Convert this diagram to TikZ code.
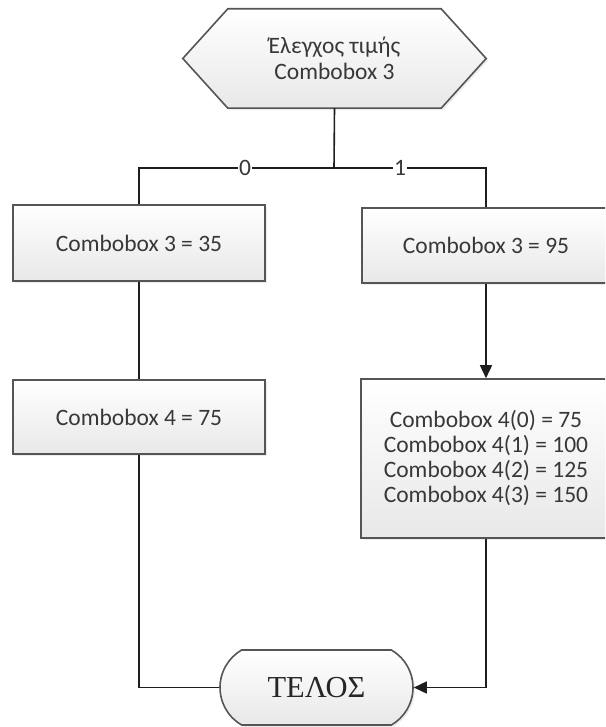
\documentclass[tikz,border=0pt]{standalone}
\usepackage{fontspec}
\setmainfont{Carlito}
\newfontfamily\terminalfont{Liberation Serif}
\usetikzlibrary{arrows.meta,shapes.misc,shadows,backgrounds}

\definecolor{edge}{HTML}{555555}
\definecolor{ink}{HTML}{383838}
\definecolor{boxbot}{HTML}{E8E8E8}
\definecolor{wire}{HTML}{1E1E1E}

\begin{document}
\begin{tikzpicture}[x=1pt,y=-1pt,
  txt/.style={font=\fontsize{23.5}{25}\selectfont, text=ink, align=center},
  shadowed/.style={drop shadow={shadow xshift=2pt, shadow yshift=-2pt, opacity=0.14}},
  proc/.style={txt, draw=edge, line width=1.6pt, top color=white, bottom color=boxbot,
    shadowed, inner sep=0pt},
  flow/.style={line width=1.6pt, draw=wire},
  arr/.style={flow, -{Triangle[length=13pt,width=12pt]}},
  lbl/.style={txt, fill=white, inner sep=1.5pt}]

\useasboundingbox (0,0) rectangle (605,727);
\clip (0,0) rectangle (605,727);

% decision (preparation hexagon)
\node[txt, minimum width=303pt, minimum height=99pt, inner sep=0pt] (prep) at (334.5,58.5)
  {Έλεγχος τιμής\\[1pt]Combobox 3};
\begin{scope}[on background layer]
  \path[draw=edge, line width=1.6pt, top color=white, bottom color=boxbot, shadowed]
    (prep.west) -- ([xshift=45pt]prep.north west) -- ([xshift=-45pt]prep.north east)
    -- (prep.east) -- ([xshift=-45pt]prep.south east) -- ([xshift=45pt]prep.south west) -- cycle;
\end{scope}

% process boxes
\node[proc, minimum width=252pt, minimum height=76pt] (lbA) at (139,243) {Combobox 3 = 35};
\node[proc, minimum width=248pt, minimum height=75pt] (rbA) at (486,245.5) {Combobox 3 = 95};
\node[proc, minimum width=252pt, minimum height=74pt] (lbB) at (139,417) {Combobox 4 = 75};
\node[proc, minimum width=250pt, minimum height=159pt] (rbB) at (486,458.5)
  {Combobox 4(0) = 75\\Combobox 4(1) = 100\\Combobox 4(2) = 125\\Combobox 4(3) = 150};

% terminator
\node[rounded rectangle, rounded rectangle arc length=120, draw=edge, line width=1.6pt,
  top color=white, bottom color=boxbot, shadowed, minimum width=193pt, minimum height=75pt,
  inner sep=0pt, text=black!85, font=\terminalfont\fontsize{30.5}{31}\selectfont] (end) at (316.5,687.5) {ΤΕΛΟΣ};

% connectors
\coordinate (split) at (334,168);
\draw[flow] (prep.south) -- (split);
\draw[flow] (split) -| (lbA.north);
\draw[flow] (split) -| (rbA.north);
\node[lbl] (zero) at (245,168) {0};
\node[lbl] (one) at (400,168) {1};
\draw[flow] (lbA.south) -- (lbB.north);
\draw[arr] (rbA.south) -- (rbB.north);
\draw[flow] (lbB.south) |- (end.west);
\draw[arr] (rbB.south) |- (end.east);
\end{tikzpicture}
\end{document}
